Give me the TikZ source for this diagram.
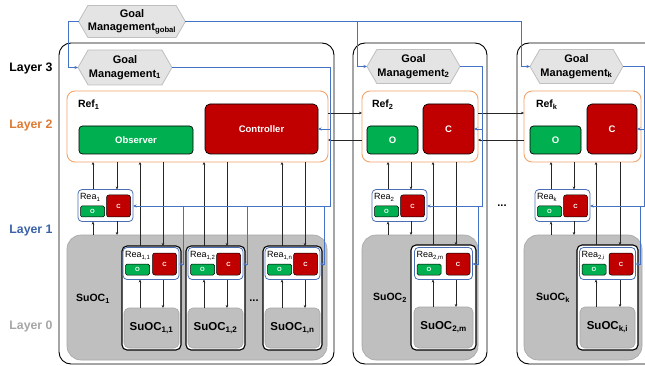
\documentclass[tikz,border=0pt]{standalone}
\usepackage{fontspec}
\setmainfont{Liberation Sans}
\usetikzlibrary{arrows.meta,shapes.symbols}
\definecolor{bl}{HTML}{4472C4}
\definecolor{reabc}{HTML}{4A6FB5}
\definecolor{orb}{HTML}{F4A46A}
\definecolor{ort}{HTML}{DD7A33}
\definecolor{lonet}{HTML}{3A62A7}
\definecolor{lzerot}{HTML}{A6A6A6}
\definecolor{rd}{HTML}{C00000}
\definecolor{gn}{HTML}{00B050}
\definecolor{hexf}{HTML}{E4E4E4}
\definecolor{hexd}{HTML}{BFBFBF}
\definecolor{suf}{HTML}{BFBFBF}
\definecolor{sud}{HTML}{A6A6A6}
\newcommand\sbs[1]{\textsubscript{#1}}
\newcommand\fs[1]{\fontsize{#1}{#1}\selectfont}
\newcommand\rectnode[7]{%
  \pgfmathsetmacro\rcx{(#3+#5)/2}\pgfmathsetmacro\rcy{(#4+#6)/2}%
  \pgfmathsetmacro\rw{#5-#3}\pgfmathsetmacro\rh{#6-#4}%
  \node[#1, minimum width=\rw pt, minimum height=\rh pt] (#2) at (\rcx,\rcy) {#7};}
\newcommand\reanode[5]{% name, cx, cy, width, label
  \node[reab, minimum width=#4pt] (#1) at (#2,#3) {};
  \node[osm, anchor=south west] (#1o) at ([xshift=2.5pt,yshift=4.5pt]#1.south west) {O};
  \node[csm, anchor=south east] (#1c) at ([xshift=-2.5pt,yshift=4.5pt]#1.south east) {C};
  \node[realab] (#1l) at ([xshift=2pt,yshift=-10.5pt]#1.north west) {#5};}
\tikzset{
 every node/.style={inner sep=0pt, outer sep=0pt},
 lay/.style={font=\bfseries\fs{12.3}},
 gm/.style={signal, signal to=west and east, signal pointer angle=120, fill=hexf, draw=hexd, line width=0.8pt, align=center, font=\bfseries\fontsize{11}{13.5}\selectfont},
 outerb/.style={draw=black, fill=white, line width=0.9pt, rounded corners=12pt},
 refb/.style={draw=orb, line width=0.9pt, rounded corners=8pt},
 reflab/.style={anchor=base west, font=\bfseries\fs{10.5}},
 obs/.style={fill=gn, draw=black, line width=0.7pt, rounded corners=3.5pt, text=white, font=\bfseries\fs{9.5}},
 ctl/.style={fill=rd, draw=black, line width=0.7pt, rounded corners=5pt, text=white, font=\bfseries\fs{9.5}},
 reab/.style={draw=reabc, fill=white, line width=0.8pt, rounded corners=4pt, minimum height=32pt},
 osm/.style={fill=gn, draw=black, line width=0.5pt, rounded corners=1.5pt, minimum width=24pt, minimum height=11pt, text=white, font=\bfseries\fs{6}},
 csm/.style={fill=rd, draw=black, line width=0.5pt, rounded corners=2.5pt, minimum width=24pt, minimum height=22pt, text=white, font=\bfseries\fs{6}},
 realab/.style={anchor=base west, font=\fs{9}},
 cont/.style={draw=black, fill=white, line width=1.1pt, rounded corners=5pt},
 suocb/.style={fill=suf, draw=sud, line width=0.6pt, rounded corners=14pt},
 suocs/.style={fill=suf, draw=sud, line width=0.6pt, rounded corners=5pt, font=\bfseries\fs{11.5}},
 suoclab/.style={font=\bfseries\fs{10.5}},
 conn/.style={draw=black!85, line width=0.5pt, -{Stealth[length=3pt,width=2.6pt]}},
 bline/.style={draw=bl, line width=0.8pt},
 barr/.style={bline, -{Stealth[length=3.5pt,width=3pt]}},
}
\begin{document}
\begin{tikzpicture}[x=1pt,y=-1pt]
\clip (0,0) rectangle (645,366);
\useasboundingbox (0,0) rectangle (645,366);
% layer labels
\node[lay] (L3) at (31,68) {Layer 3};
\node[lay, text=ort] (L2) at (31,125) {Layer 2};
\node[lay, text=lonet] (L1) at (31,231) {Layer 1};
\node[lay, text=lzerot] (L0) at (31,326) {Layer 0};
% outer boxes
\rectnode{outerb}{box1}{59}{43}{334}{364}{}
\rectnode{outerb}{box2}{353}{43}{487}{364}{}
\rectnode{outerb}{boxk}{517}{43}{680}{364}{}
% goal management
\node[gm, minimum width=106pt, minimum height=32pt] (gmg) at (132,21.5) {Goal\\Management\sbs{gobal}};
\node[gm, minimum width=94pt, minimum height=35pt] (gm1) at (125,67.5) {Goal\\Management\sbs{1}};
\node[gm, minimum width=93pt, minimum height=34pt] (gm2) at (413.5,66.5) {Goal\\Management\sbs{2}};
\node[gm, minimum width=93pt, minimum height=34pt] (gmk) at (576.5,66.5) {Goal\\Management\sbs{k}};
% Ref layer
\rectnode{refb}{ref1}{67}{91}{328}{162}{}
\node[reflab] (ref1l) at (78,108) {Ref\sbs{1}};
\rectnode{obs}{obs1}{79}{126}{193}{154}{Observer}
\rectnode{ctl}{ctl1}{205}{104}{318}{154}{Controller}
\rectnode{refb}{ref2}{362}{91}{478}{162}{}
\node[reflab] (ref2l) at (372,108) {Ref\sbs{2}};
\rectnode{obs}{o2}{367}{126}{418}{154}{O}
\rectnode{ctl}{c2}{423}{104}{474}{154}{C}
\rectnode{refb}{refk}{524}{91}{641}{162}{}
\node[reflab] (refkl) at (536,108) {Ref\sbs{k}};
\rectnode{obs}{ok}{530}{126}{581}{154}{O}
\rectnode{ctl}{ck}{587}{104}{637}{154}{C}
% SuOC big
\rectnode{suocb}{suoc1}{67}{235}{327}{360}{}
\node[suoclab] (suoc1l) at (93,299) {SuOC\sbs{1}};
\rectnode{suocb}{suoc2}{362}{235}{478}{360}{}
\node[suoclab] (suoc2l) at (390,298) {SuOC\sbs{2}};
\rectnode{suocb}{suock}{524}{235}{642}{360}{}
\node[suoclab] (suockl) at (553,298) {SuOC\sbs{k}};
% Rea layer-1 top
\reanode{rea1}{105.5}{205.5}{55}{Rea\sbs{1}}
\reanode{rea2}{399.5}{205.5}{55}{Rea\sbs{2}}
\reanode{reak}{562.5}{205.5}{55}{Rea\sbs{k}}
% containers
\rectnode{cont}{c11}{122}{246}{181}{350}{}
\rectnode{cont}{c12}{186}{246}{245}{350}{}
\rectnode{cont}{c1n}{263}{246}{322}{350}{}
\rectnode{cont}{c2m}{411}{245}{476}{350}{}
\rectnode{cont}{cki}{577}{245}{638}{350}{}
\reanode{rea11}{151}{263.5}{56}{Rea\sbs{1,1}}
\reanode{rea12}{215.5}{263.5}{55}{Rea\sbs{1,2}}
\reanode{rea1n}{292.5}{263.5}{55}{Rea\sbs{1,n}}
\reanode{rea2m}{443.5}{263.5}{58}{Rea\sbs{2,m}}
\reanode{reaki}{607.5}{263.5}{56}{Rea\sbs{2,i}}
\rectnode{suocs}{s11}{124}{308}{179}{348}{SuOC\sbs{1,1}}
\rectnode{suocs}{s12}{188}{308}{243}{348}{SuOC\sbs{1,2}}
\rectnode{suocs}{s1n}{265}{308}{320}{348}{SuOC\sbs{1,n}}
\rectnode{suocs}{s2m}{414}{307}{473}{348}{SuOC\sbs{2,m}}
\rectnode{suocs}{ski}{580}{307}{635}{348}{SuOC\sbs{k,i}}
\node[font=\bfseries\fs{11}] (dots1) at (254,301) {...};
\node[font=\bfseries\fs{11}] (dots2) at (502,206) {...};
% black connectors: Ref <-> Rea top
\foreach \r/\rr/\s/\xa/\xb in {rea1/ref1/suoc1/93/117, rea2/ref2/suoc2/388/411, reak/refk/suock/551/574}{
  \draw[conn] (\xa,0 |- \r.north) -- (\xa,0 |- \rr.south);
  \draw[conn] (\xb,0 |- \rr.south) -- (\xb,0 |- \r.north);
  \draw[conn] (\xa,0 |- \s.north) -- (\xa,0 |- \r.south);
  \draw[conn] (\xb,0 |- \r.south) -- (\xb,0 |- \s.north);
}
% containers
\foreach \c/\r/\s/\rr/\xa/\xb in {c11/rea11/s11/ref1/140/163, c12/rea12/s12/ref1/204/227, c1n/rea1n/s1n/ref1/282/305, c2m/rea2m/s2m/ref2/433/456, cki/reaki/ski/refk/596/620}{
  \draw[conn] (\xa,0 |- \c.north) -- (\xa,0 |- \rr.south);
  \draw[conn] (\xb,0 |- \rr.south) -- (\xb,0 |- \c.north);
  \draw[conn] (\xa,0 |- \s.north) -- (\xa,0 |- \r.south);
  \draw[conn] (\xb,0 |- \r.south) -- (\xb,0 |- \s.north);
}
% Ref <-> Ref
\draw[conn] (ref1.east |- 0,113) -- (ref2.west |- 0,113);
\draw[conn] (ref2.west |- 0,140) -- (ref1.east |- 0,140);
\draw[conn] (ref2.east |- 0,113) -- (refk.west |- 0,113);
\draw[conn] (refk.west |- 0,140) -- (ref2.east |- 0,140);
% blue goal lines
\draw[barr] (gmg.west) -- (68,0 |- gmg.west) -- (68,0 |- gm1.west) -- (gm1.west);
\draw[barr] (gmg.east) -- (521,0 |- gmg.east) -- (521,0 |- gmk.west) -- (gmk.west);
\draw[barr] (357,0 |- gmg.east) -- (357,0 |- gm2.west) -- (gm2.west);
\draw[barr] (gm1.east) -- (330,0 |- gm1.east) -- (330,0 |- rea1c) -- (rea1.east |- rea1c);
\draw[barr] (330,0 |- ctl1) -- (ctl1.east);
\draw[barr] (183,0 |- rea1c) -- (183,0 |- rea11c) -- (rea11.east |- rea11c);
\draw[barr] (247,0 |- rea1c) -- (247,0 |- rea12c) -- (rea12.east |- rea12c);
\draw[barr] (324,0 |- rea1c) -- (324,0 |- rea1nc) -- (rea1n.east |- rea1nc);
\draw[barr] (gm2.east) -- (482,0 |- gm2.east) -- (482,0 |- rea2c) -- (rea2.east |- rea2c);
\draw[barr] (482,0 |- c2) -- (c2.east);
\draw[barr] (478,0 |- rea2c) -- (478,0 |- rea2mc) -- (rea2m.east |- rea2mc);
\draw[barr] (gmk.east) -- (644,0 |- gmk.east) -- (644,0 |- reakc) -- (reak.east |- reakc);
\draw[barr] (644,0 |- ck) -- (ck.east);
\draw[barr] (640,0 |- reakc) -- (640,0 |- reakic) -- (reaki.east |- reakic);
\end{tikzpicture}
\end{document}
